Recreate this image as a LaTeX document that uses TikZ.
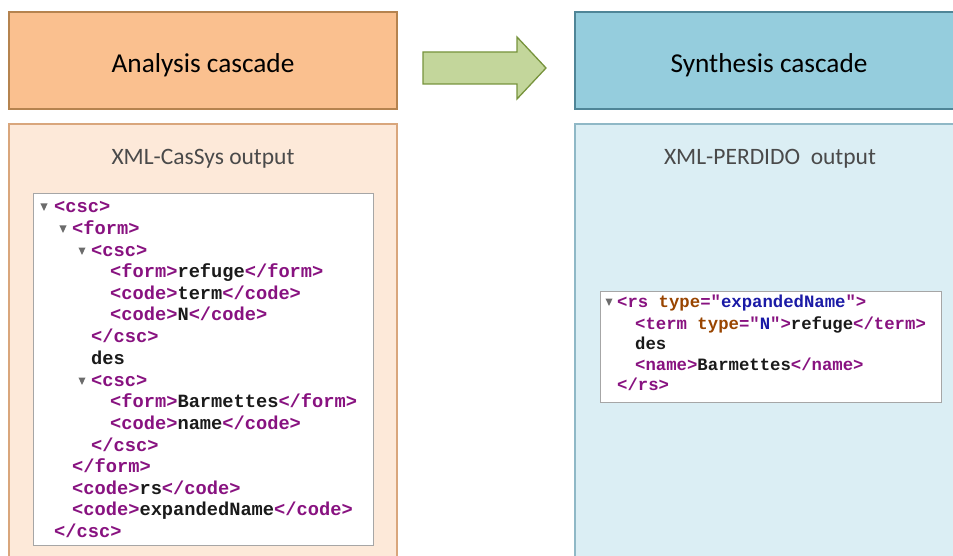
\documentclass[tikz,border=0pt]{standalone}
\usepackage{fontspec}
\setmainfont{Carlito}
\newfontfamily\codefont{Liberation Mono}[Ligatures=ResetAll]
\definecolor{hdrOr}{HTML}{FAC08F}
\definecolor{hdrOrB}{HTML}{B5834F}
\definecolor{bodyOr}{HTML}{FDE9D9}
\definecolor{bodyOrB}{HTML}{D9A67C}
\definecolor{hdrBl}{HTML}{95CDDD}
\definecolor{hdrBlB}{HTML}{4F8597}
\definecolor{bodyBl}{HTML}{DBEEF4}
\definecolor{bodyBlB}{HTML}{8FB8C6}
\definecolor{arrF}{HTML}{C3D69B}
\definecolor{arrB}{HTML}{77933C}
\definecolor{tagc}{HTML}{881280}
\definecolor{attrc}{HTML}{994500}
\definecolor{valc}{HTML}{1A1AA6}
\definecolor{txtc}{HTML}{1A1A1A}
\definecolor{subt}{HTML}{4A4A4A}
\newcommand{\tg}[1]{\textcolor{tagc}{#1}}
\newcommand{\at}[1]{\textcolor{attrc}{#1}}
\newcommand{\vl}[1]{\textcolor{valc}{#1}}
\tikzset{
  hdr/.style={font=\fontsize{27.3}{32}\selectfont, text=black},
  sub/.style={font=\fontsize{23.5}{28}\selectfont, text=subt},
  codeL/.style={anchor=mid west, inner sep=0pt, font=\codefont\bfseries\fontsize{18.7}{21}\selectfont, text=txtc},
  codeR/.style={anchor=mid west, inner sep=0pt, font=\codefont\bfseries\fontsize{17.3}{20}\selectfont, text=txtc},
  trig/.style={fill=gray!85!black},
  codebox/.style={draw=gray!70, fill=white, line width=1pt},
}
\newcommand{\tri}[2]{\fill[trig] (#1-3.6,#2-6.5) -- (#1+3.6,#2-6.5) -- (#1,#2+0.8) -- cycle;}
\begin{document}
\begin{tikzpicture}[x=1pt,y=-1pt]
\useasboundingbox (0,0) rectangle (953,556);
\clip (0,0) rectangle (953,556);
% boxes
\draw[fill=hdrOr, draw=hdrOrB, line width=1.3pt] (9,12) rectangle (397,109);
\draw[fill=bodyOr, draw=bodyOrB, line width=1.3pt] (9,124) rectangle (397,570);
\draw[fill=hdrBl, draw=hdrBlB, line width=1.3pt] (575,12) rectangle (970,109);
\draw[fill=bodyBl, draw=bodyBlB, line width=1.3pt] (575,124) rectangle (970,570);
% arrow
\draw[fill=arrF, draw=arrB, line width=1.3pt, line join=miter]
  (423,52) -- (517,52) -- (517,37) -- (546,68) -- (517,99) -- (517,84) -- (423,84) -- cycle;
% titles
\node[hdr] (an) at (203,65) {Analysis cascade};
\node[hdr] (sy) at (769,65) {Synthesis cascade};
\node[sub] (xc) at (203,159) {XML-CasSys output};
\node[sub] (xp) at (770,159) {XML-PERDIDO\ \ output};
% left code box
\draw[codebox] (33,194) rectangle (373,545);
\tri{44}{210}
\node[codeL] (l1) at (54,210.5) {\tg{<csc>}};
\tri{63}{232}
\node[codeL] (l2) at (72,232) {\tg{<form>}};
\tri{82}{254}
\node[codeL] (l3) at (91,254) {\tg{<csc>}};
\node[codeL] (l4) at (110,275.5) {\tg{<form>}refuge\tg{</form>}};
\node[codeL] (l5) at (110,297) {\tg{<code>}term\tg{</code>}};
\node[codeL] (l6) at (110,318.5) {\tg{<code>}N\tg{</code>}};
\node[codeL] (l7) at (91,340.5) {\tg{</csc>}};
\node[codeL] (l8) at (91,362) {des};
\tri{82}{384}
\node[codeL] (l9) at (91,384) {\tg{<csc>}};
\node[codeL] (l10) at (110,405.5) {\tg{<form>}Barmettes\tg{</form>}};
\node[codeL] (l11) at (110,427) {\tg{<code>}name\tg{</code>}};
\node[codeL] (l12) at (91,449) {\tg{</csc>}};
\node[codeL] (l13) at (72,470.5) {\tg{</form>}};
\node[codeL] (l14) at (72,492) {\tg{<code>}rs\tg{</code>}};
\node[codeL] (l15) at (72,513.5) {\tg{<code>}expandedName\tg{</code>}};
\node[codeL] (l16) at (54,535.5) {\tg{</csc>}};
% right code box
\draw[codebox] (600,291) rectangle (941,402);
\tri{609}{305}
\node[codeR] (r1) at (617,305) {\tg{<rs} \at{type}\tg{="}\vl{expandedName}\tg{">}};
\node[codeR] (r2) at (635,327) {\tg{<term} \at{type}\tg{="}\vl{N}\tg{">}refuge\tg{</term>}};
\node[codeR] (r3) at (635,347) {des};
\node[codeR] (r4) at (635,368) {\tg{<name>}Barmettes\tg{</name>}};
\node[codeR] (r5) at (617,388) {\tg{</rs>}};
\end{tikzpicture}
\end{document}
